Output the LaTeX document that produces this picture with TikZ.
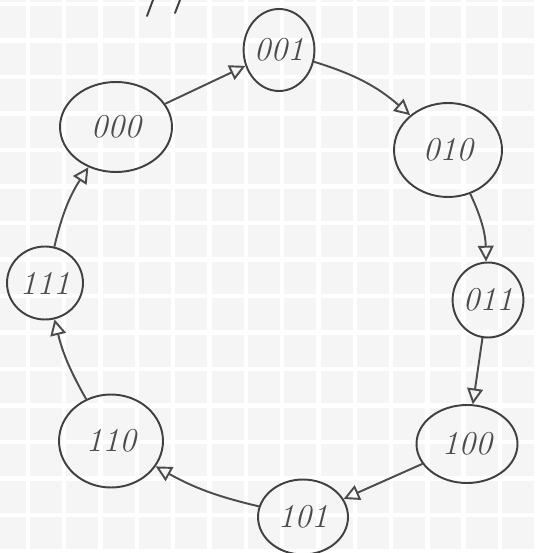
\documentclass[tikz,border=0pt]{standalone}
\usepackage{tikz}
\usetikzlibrary{shapes.geometric,arrows.meta}

\begin{document}
\begin{tikzpicture}[x=0.02cm,y=-0.02cm,
    state/.style={draw=black!75,line width=1.1pt,ellipse,inner sep=0pt,
      font=\fontsize{19}{20}\selectfont\itshape,text=black!70},
    trans/.style={draw=black!70,line width=1.1pt,
      -{Triangle[open,length=9pt,width=9pt]}}]
        % paper
        \useasboundingbox (0,0) rectangle (535,553);
        \fill[black!4] (0,0) rectangle (535,553);
        \foreach \gx in {0,...,14} \draw[white,line width=2.5pt] (28+36.3*\gx,0) -- (28+36.3*\gx,553);
        \foreach \gy in {0,...,15} \draw[white,line width=2.5pt] (0,4+36.5*\gy) -- (535,4+36.5*\gy);

        % cut-off writing at the top
        \draw[black!75,line width=1.1pt,line cap=round] (147,16) -- (153,0);
        \draw[black!75,line width=1.1pt,line cap=round] (175,13) -- (180,0);

        % states
        \node[state,minimum width=2.24cm,minimum height=1.8cm] (s000) at (116,127) {000};
        \node[state,minimum width=1.36cm,minimum height=1.64cm] (s001) at (279,50) {001};
        \node[state,minimum width=2.16cm,minimum height=1.88cm] (s010) at (448,150) {010};
        \node[state,minimum width=1.34cm,minimum height=1.5cm] (s011) at (488,300) {011};
        \node[state,minimum width=2.02cm,minimum height=1.56cm] (s100) at (467,444) {100};
        \node[state,minimum width=1.8cm,minimum height=1.5cm] (s101) at (303,517) {101};
        \node[state,minimum width=2.08cm,minimum height=1.86cm] (s110) at (111,441) {110};
        \node[state,minimum width=1.52cm,minimum height=1.46cm] (s111) at (45,283) {111};

        % transitions
        \draw[trans] (s000) -- (s001);
        \draw[trans] (s001) to[bend left=12] (s010);
        \draw[trans] (s010) to[bend left=12] (s011);
        \draw[trans] (s011) -- (s100);
        \draw[trans] (s100) -- (s101);
        \draw[trans] (s101) to[bend left=8] (s110);
        \draw[trans] (s110) to[bend left=8] (s111);
        \draw[trans] (s111) to[bend left=10] (s000);
    \end{tikzpicture}
\end{document}
